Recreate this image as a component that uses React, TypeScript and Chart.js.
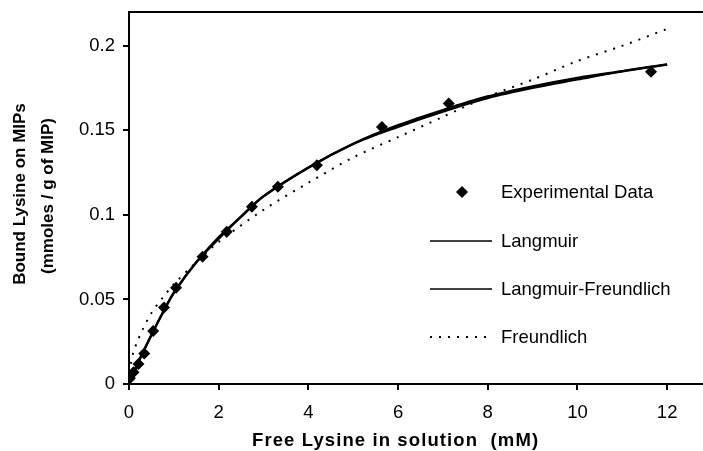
import React, { useEffect, useRef } from "react";
import { Chart, registerables } from "chart.js";

Chart.register(...registerables);

// ---- data ----
const expX = [0.02, 0.1, 0.21, 0.34, 0.54, 0.78, 1.05, 1.64, 2.18, 2.74, 3.32, 4.19, 5.64, 7.13, 11.64];
const expY = [0.0034, 0.007, 0.0118, 0.018, 0.0313, 0.0453, 0.0569, 0.0752, 0.09, 0.1048, 0.1166, 0.1294, 0.152, 0.1659, 0.1846];

const fitX = [0, 0.1, 0.25, 0.5, 0.75, 1, 1.5, 2, 2.5, 3, 4, 5, 6, 7, 8, 9, 10, 11, 12];
const langmuirY = [0, 0.0065, 0.0155, 0.029, 0.042, 0.054, 0.072, 0.086, 0.099, 0.111, 0.128, 0.142, 0.153, 0.162, 0.17, 0.176, 0.181, 0.185, 0.189];
const langFreundY = [0, 0.006, 0.015, 0.029, 0.042, 0.054, 0.072, 0.087, 0.099, 0.111, 0.128, 0.142, 0.152, 0.161, 0.169, 0.175, 0.18, 0.185, 0.189];

const freundX = [0.04, 0.1, 0.2, 0.3, 0.5, 0.75, 1, 1.5, 2, 3, 4, 5, 6, 7, 8, 9, 10, 11, 12];
const freundY = [0.012, 0.019, 0.026, 0.032, 0.042, 0.051, 0.059, 0.072, 0.084, 0.103, 0.119, 0.134, 0.146, 0.158, 0.17, 0.18, 0.191, 0.2, 0.21];

const seriesLabels = ["Experimental Data", "Langmuir", "Langmuir-Freundlich", "Freundlich"];
const yTickLabels = ["0", "0.05", "0.1", "0.15", "0.2"];
const xTitle = "Free Lysine in solution  (mM)";
const yTitleLines = ["Bound Lysine on MIPs", "(mmoles / g of MIP)"];

const FONT = "'Liberation Sans', Arial, Helvetica, sans-serif";

const toXY = (xs: number[], ys: number[]) => xs.map((x, i) => ({ x, y: ys[i] }));

const decorPlugin = {
  id: "decor",
  afterDraw(chart: any) {
    const ctx = chart.ctx as CanvasRenderingContext2D;
    const ca = chart.chartArea;
    ctx.save();
    // top frame line
    ctx.strokeStyle = "#000";
    ctx.lineWidth = 2;
    ctx.beginPath();
    ctx.moveTo(ca.left - 1, ca.top);
    ctx.lineTo(chart.width, ca.top);
    ctx.stroke();

    // legend
    const lx0 = ca.left + 301;
    const lx1 = ca.left + 363;
    const tx = ca.left + 372;
    const rows = [ca.top + 180, ca.top + 229, ca.top + 277, ca.top + 325];
    ctx.font = `18.5px ${FONT}`;
    ctx.fillStyle = "#000";
    ctx.textBaseline = "middle";
    ctx.textAlign = "left";
    chart.data.datasets.forEach((ds: any, i: number) => {
      const y = rows[i];
      if (i === 0) {
        const cx = ca.left + 333;
        const r = 6;
        ctx.beginPath();
        ctx.moveTo(cx, y - r);
        ctx.lineTo(cx + r, y);
        ctx.lineTo(cx, y + r);
        ctx.lineTo(cx - r, y);
        ctx.closePath();
        ctx.fill();
      } else {
        ctx.save();
        ctx.lineWidth = ds.borderDash && ds.borderDash.length ? 2 : 1.5;
        ctx.setLineDash(ds.borderDash || []);
        ctx.beginPath();
        ctx.moveTo(lx0, y);
        ctx.lineTo(lx1, y);
        ctx.stroke();
        ctx.restore();
      }
      ctx.fillText(ds.label, tx, y + 1);
    });

    // x axis title
    ctx.font = `bold 18.5px ${FONT}`;
    (ctx as any).letterSpacing = "1.1px";
    ctx.textAlign = "left";
    ctx.textBaseline = "middle";
    ctx.fillText(xTitle, ca.left + 123, 441);
    (ctx as any).letterSpacing = "0px";

    // y axis title (two rotated lines)
    ctx.font = `bold 17px ${FONT}`;
    ctx.textAlign = "center";
    const cy = 194;
    ctx.translate(20.5, cy);
    ctx.rotate(-Math.PI / 2);
    ctx.fillText(yTitleLines[0], 0, 0);
    ctx.fillText(yTitleLines[1], -2, 27.5);
    ctx.restore();
  },
};

export default function App() {
  const ref = useRef<HTMLCanvasElement | null>(null);

  useEffect(() => {
    if (!ref.current) return;
    const chart = new Chart(ref.current, {
      type: "scatter",
      data: {
        datasets: [
          {
            label: seriesLabels[0],
            data: toXY(expX, expY),
            showLine: false,
            pointStyle: "rectRot",
            pointRadius: 6,
            backgroundColor: "#000",
            borderColor: "#000",
            borderWidth: 0,
            order: 0,
          },
          {
            label: seriesLabels[1],
            data: toXY(fitX, langmuirY),
            showLine: true,
            pointRadius: 0,
            borderColor: "#000",
            borderWidth: 2.5,
            tension: 0.3,
            order: 1,
          },
          {
            label: seriesLabels[2],
            data: toXY(fitX, langFreundY),
            showLine: true,
            pointRadius: 0,
            borderColor: "#000",
            borderWidth: 2,
            tension: 0.3,
            order: 2,
          },
          {
            label: seriesLabels[3],
            data: toXY(freundX, freundY),
            showLine: true,
            pointRadius: 0,
            borderColor: "#000",
            borderWidth: 2,
            borderDash: [2, 7],
            tension: 0.3,
            order: 3,
          },
        ],
      },
      options: {
        animation: false,
        responsive: false,
        maintainAspectRatio: false,
        layout: { autoPadding: false, padding: { top: 12, right: 0, left: 0, bottom: 0 } },
        plugins: {
          legend: { display: false },
          tooltip: { enabled: false },
        },
        scales: {
          x: {
            type: "linear",
            min: 0,
            max: 12.8,
            afterFit: (s: any) => {
              s.height = 67;
              s.paddingLeft = 0;
              s.paddingRight = 0;
            },
            ticks: {
              stepSize: 2,
              includeBounds: false,
              color: "#000",
              font: { family: FONT, size: 18.5 },
              padding: 12,
              maxRotation: 0,
            },
            grid: {
              display: true,
              drawOnChartArea: false,
              drawTicks: true,
              tickLength: 6,
              color: "#000",
              lineWidth: 2,
            },
            border: { display: true, color: "#000", width: 2 },
          },
          y: {
            type: "linear",
            min: 0,
            max: 0.22,
            afterFit: (s: any) => {
              s.width = 129;
              s.paddingTop = 0;
              s.paddingBottom = 0;
            },
            ticks: {
              stepSize: 0.05,
              includeBounds: false,
              color: "#000",
              font: { family: FONT, size: 18.5 },
              padding: 8,
              callback: (v: any) => {
                const idx = Math.round(Number(v) / 0.05);
                return yTickLabels[idx] ?? "";
              },
            },
            grid: {
              display: true,
              drawOnChartArea: false,
              drawTicks: true,
              tickLength: 6,
              color: "#000",
              lineWidth: 2,
            },
            border: { display: true, color: "#000", width: 2 },
          },
        },
      },
      plugins: [decorPlugin],
    });
    return () => chart.destroy();
  }, []);

  return (
    <div style={{ position: "fixed", left: 0, top: 0, width: 703, height: 451, background: "#fff" }}>
      <canvas ref={ref} width={703} height={451} style={{ display: "block", width: 703, height: 451 }} />
    </div>
  );
}
